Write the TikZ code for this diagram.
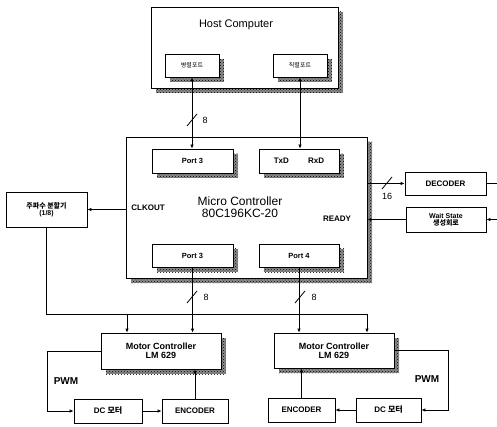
\documentclass[tikz,border=0pt]{standalone}
\usepackage{fontspec}
\setmainfont{Liberation Sans}
\newfontfamily\kr{Noto Sans CJK KR}
\usetikzlibrary{arrows.meta,positioning,patterns,calc}
\newcommand{\fz}[1]{\fontsize{#1}{#1}\selectfont}
\tikzset{
  ar/.style={-{Latex[length=4pt,width=3.5pt]},thick},
  dar/.style={{Latex[length=4pt,width=3.5pt]}-{Latex[length=4pt,width=3.5pt]},thick},
  box/.style={draw,thick,fill=white,align=center,inner sep=0pt,font=\bfseries\fz{7.5}},
  shd/.style={fill=black!45,postaction={pattern=crosshatch dots}},
  lbl/.style={inner sep=1pt,font=\bfseries\fz{8}}
}
% shadowed box: name, x, y, width, height, options, text
\newcommand{\shbox}[7]{%
  \fill[shd] (#2-#4/2+5,#3-#5/2+5) rectangle (#2+#4/2+5,#3+#5/2+5);
  \node[box,minimum width=#4pt,minimum height=#5pt,#6] (#1) at (#2,#3) {#7};}
\newcommand{\busmark}[5]{%
  \draw[thick] (#1-5,#2+6)--(#1+5,#2-6);
  \node[lbl,font=\fz{9}] (#3) at (#1+#4,#2+#5) {#3};}

\begin{document}
\begin{tikzpicture}[x=1pt,y=-1pt]
\useasboundingbox (0,0) rectangle (497,427);
% host side
\shbox{host}{244.5}{47.5}{187}{81}{}{}
\node[font=\fz{11}] (hosttitle) at (236,25) {Host Computer};
\shbox{par}{192}{65.5}{54}{23}{font=\kr\fz{6}}{병렬포트}
\shbox{ser}{300}{65.5}{54}{23}{font=\kr\fz{6}}{직렬포트}
% micro controller
\shbox{mcu}{246.5}{207.5}{241}{141}{}{}
\node[font=\fz{12},align=center] (mcutitle) at (240,207) {Micro Controller\\80C196KC-20};
\shbox{p3a}{192.5}{161}{81}{24}{}{Port 3}
\shbox{txrx}{299}{161}{80}{24}{font=\bfseries\fz{8}}{TxD\hspace{2.4em}RxD}
\shbox{p3b}{192.5}{255.5}{81}{23}{}{Port 3}
\shbox{p4}{299}{255.5}{80}{23}{}{Port 4}
\node[lbl] (clkout) at (148,208) {CLKOUT};
\node[lbl] (ready) at (337,219) {READY};
% periphery
\node[box,minimum width=81pt,minimum height=35pt,font=\bfseries\fz{7}] (div) at (46.5,209.5) {{\kr 주파수 분할기}\\(1/8)};
\node[box,minimum width=81pt,minimum height=23pt,font=\bfseries\fz{8}] (dec) at (445.5,183.5) {DECODER};
\node[box,minimum width=80pt,minimum height=25pt,font=\bfseries\fz{7}] (wait) at (446,219.5) {Wait State\\{\kr 생성회로}};
\coordinate (decout) at (497,183.5);
\coordinate (waitin) at (497,219.5);
% motor side
\shbox{mcl}{161}{351}{120}{36}{font=\bfseries\fz{9}}{Motor Controller\\LM 629}
\shbox{mcr}{334}{350.5}{120}{35}{font=\bfseries\fz{9}}{Motor Controller\\LM 629}
\node[box,minimum width=68pt,minimum height=24pt,font=\bfseries\fz{8}] (dcl) at (108,411) {DC {\kr 모터}};
\node[box,minimum width=66pt,minimum height=24pt,font=\bfseries\fz{8}] (encl) at (195,411) {ENCODER};
\node[box,minimum width=65pt,minimum height=24pt,font=\bfseries\fz{8}] (dcr) at (388.5,410) {DC {\kr 모터}};
\node[box,minimum width=67pt,minimum height=24pt,font=\bfseries\fz{8}] (encr) at (301.5,410) {ENCODER};
\node[lbl,font=\bfseries\fz{10}] (pwml) at (66,381) {PWM};
\node[lbl,font=\bfseries\fz{10}] (pwmr) at (427,379) {PWM};
% buses
\draw[dar] (par.south) -- (par.south |- p3a.north);
\draw[dar] (ser.south) -- (ser.south |- txrx.north);
\draw[ar] (p3b.south) -- (p3b.south |- mcl.north);
\draw[ar] (p4.south) -- (p4.south |- mcr.north);
\busmark{192}{120}{8}{13}{0}
\busmark{192}{297}{8}{14}{0}
\busmark{300}{297}{8}{14}{0}
\draw[ar] (dec.west -| mcu.east) -- (dec.west);
\draw[thick] (dec.east) -- (decout);
\busmark{387}{183}{16}{0}{13}
\draw[ar] (wait.west) -- (wait.west -| mcu.east);
\draw[ar] (waitin) -- (wait.east);
% clock
\coordinate (ck) at (46.5,314);
\coordinate (ckl) at (127,314);
\coordinate (ckr) at (367,314);
\draw[ar] (div.east -| mcu.west) -- (div.east);
\draw[thick] (div.south) -- (ck) -- (ckr);
\draw[ar] (ckl) -- (ckl |- mcl.north);
\draw[ar] (ckr) -- (ckr |- mcr.north);
% motor loops
\draw[ar] (mcl.west) -- ++(-53,0) |- (dcl.west);
\draw[ar] (dcl.east) -- (encl.west);
\draw[ar] (encl.north) -- (encl.north |- mcl.south);
\draw[ar] (mcr.east) -- ++(54,0) |- (dcr.east);
\draw[ar] (dcr.west) -- (encr.east);
\draw[ar] (encr.north) -- (encr.north |- mcr.south);
\end{tikzpicture}
\end{document}
